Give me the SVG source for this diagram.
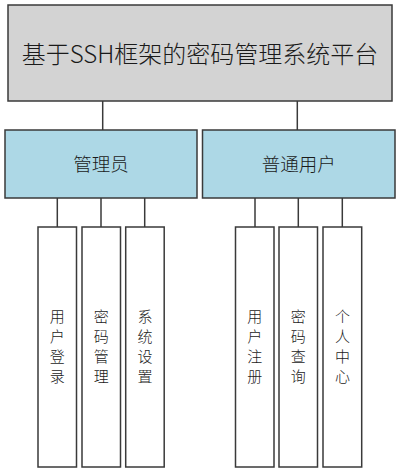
<svg xmlns="http://www.w3.org/2000/svg" width="400" height="473" viewBox="0 0 400 473">
<style>
.box{stroke:#3a3a3a;stroke-width:1.5}
.root{fill:#d3d3d3}
.mid{fill:#add8e6}
.leaf{fill:#ffffff}
.ln{stroke:#3a3a3a;stroke-width:1.5;fill:none}
text{font-family:"Microsoft YaHei","Noto Sans CJK SC",sans-serif;font-weight:300;fill:#1a1a1a;text-anchor:middle;dominant-baseline:central}
.t1{font-size:24px}
.t2{font-size:18.5px}
.t3{font-size:15px}
</style>
<rect width="400" height="473" fill="#ffffff"/>
<g id="connectors">
<line class="ln" x1="102.7" y1="101" x2="102.7" y2="130"/>
<line class="ln" x1="297.3" y1="101" x2="297.3" y2="130"/>
<line class="ln" x1="57.3" y1="198" x2="57.3" y2="227"/>
<line class="ln" x1="101" y1="198" x2="101" y2="227"/>
<line class="ln" x1="144.7" y1="198" x2="144.7" y2="227"/>
<line class="ln" x1="255" y1="198" x2="255" y2="227"/>
<line class="ln" x1="298.3" y1="198" x2="298.3" y2="227"/>
<line class="ln" x1="342.3" y1="198" x2="342.3" y2="227"/>
</g>
<g id="root">
<rect class="box root" x="8" y="5" width="384" height="96"/>
<text class="t1" x="200" y="52">基于SSH框架的密码管理系统平台</text>
</g>
<g id="admin">
<rect class="box mid" x="5" y="130" width="192" height="68"/>
<text class="t2" x="101" y="163">管理员</text>
</g>
<g id="user">
<rect class="box mid" x="202.5" y="130" width="192.5" height="68"/>
<text class="t2" x="298.7" y="163">普通用户</text>
</g>
<g id="leaf1">
<rect class="box leaf" x="38" y="227" width="38.5" height="240"/>
<text class="t3" x="57.3"><tspan x="57.3" y="315">用</tspan><tspan x="57.3" y="335">户</tspan><tspan x="57.3" y="355">登</tspan><tspan x="57.3" y="375">录</tspan></text>
</g>
<g id="leaf2">
<rect class="box leaf" x="82" y="227" width="38.5" height="240"/>
<text class="t3" x="101.3"><tspan x="101.3" y="315">密</tspan><tspan x="101.3" y="335">码</tspan><tspan x="101.3" y="355">管</tspan><tspan x="101.3" y="375">理</tspan></text>
</g>
<g id="leaf3">
<rect class="box leaf" x="125.7" y="227" width="38.5" height="240"/>
<text class="t3" x="145"><tspan x="145" y="315">系</tspan><tspan x="145" y="335">统</tspan><tspan x="145" y="355">设</tspan><tspan x="145" y="375">置</tspan></text>
</g>
<g id="leaf4">
<rect class="box leaf" x="235.5" y="227" width="38.5" height="240"/>
<text class="t3" x="254.7"><tspan x="254.7" y="315">用</tspan><tspan x="254.7" y="335">户</tspan><tspan x="254.7" y="355">注</tspan><tspan x="254.7" y="375">册</tspan></text>
</g>
<g id="leaf5">
<rect class="box leaf" x="279" y="227" width="38.5" height="240"/>
<text class="t3" x="298.3"><tspan x="298.3" y="315">密</tspan><tspan x="298.3" y="335">码</tspan><tspan x="298.3" y="355">查</tspan><tspan x="298.3" y="375">询</tspan></text>
</g>
<g id="leaf6">
<rect class="box leaf" x="323" y="227" width="38.7" height="240"/>
<text class="t3" x="342.5"><tspan x="342.5" y="315">个</tspan><tspan x="342.5" y="335">人</tspan><tspan x="342.5" y="355">中</tspan><tspan x="342.5" y="375">心</tspan></text>
</g>
</svg>
